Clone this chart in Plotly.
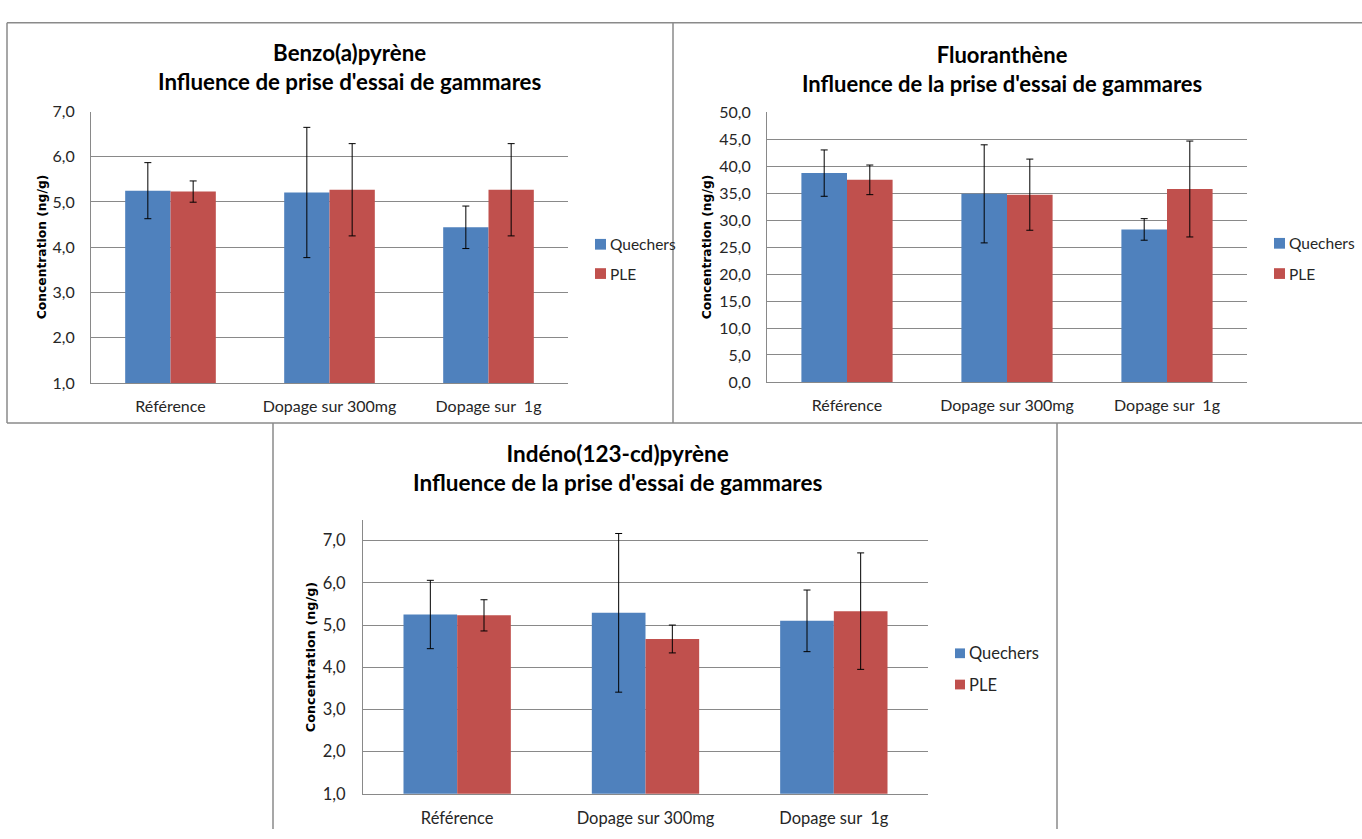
import plotly.graph_objects as go

W, H = 1362, 839

categories = ["Référence", "Dopage sur 300mg", "Dopage sur\u00a0 1g"]
series_names = ["Quechers", "PLE"]

bap_quechers = [5.25, 5.21, 4.44]
bap_quechers_err = [0.62, 1.44, 0.47]
bap_ple = [5.23, 5.27, 5.27]
bap_ple_err = [0.235, 1.02, 1.02]

flu_quechers = [38.75, 34.9, 28.3]
flu_quechers_err = [4.3, 9.1, 2.0]
flu_ple = [37.5, 34.75, 35.8]
flu_ple_err = [2.75, 6.6, 8.9]

ind_quechers = [5.25, 5.29, 5.10]
ind_quechers_err = [0.81, 1.88, 0.73]
ind_ple = [5.23, 4.67, 5.33]
ind_ple_err = [0.37, 0.33, 1.38]

titles = [
    "Benzo(a)pyrène<br>Influence de prise d'essai de gammares",
    "Fluoranthène<br>Influence de la prise d'essai de gammares",
    "Indéno(123-cd)pyrène<br>Influence de la prise d'essai de gammares",
]
y_title = "Concentration (ng/g)"

BLUE = "#4F81BD"
RED = "#C0504D"
GRID = "#898989"
TXT = "#262626"
FONT = "Lato"


def px(x):
    return x / W


def py(y):
    return 1 - y / H


fig = go.Figure()

panels = [
    dict(q=bap_quechers, qe=bap_quechers_err, p=bap_ple, pe=bap_ple_err,
         xa="x", ya="y"),
    dict(q=flu_quechers, qe=flu_quechers_err, p=flu_ple, pe=flu_ple_err,
         xa="x2", ya="y2"),
    dict(q=ind_quechers, qe=ind_quechers_err, p=ind_ple, pe=ind_ple_err,
         xa="x3", ya="y3"),
]
colors = [BLUE, RED]

for i, pn in enumerate(panels):
    for name, vals, errs, col in [
        (series_names[0], pn["q"], pn["qe"], colors[0]),
        (series_names[1], pn["p"], pn["pe"], colors[1]),
    ]:
        fig.add_trace(go.Bar(
            x=categories, y=vals, name=name,
            marker=dict(color=col, line=dict(width=0)),
            error_y=dict(type="data", array=errs, visible=True,
                         color="black", thickness=1, width=3.5),
            xaxis=pn["xa"], yaxis=pn["ya"], showlegend=False,
        ))


def axis_common(fs):
    return dict(showline=True, linecolor=GRID, linewidth=1,
                ticks="", tickfont=dict(family=FONT, size=fs, color=TXT),
                zeroline=False)


fig.update_layout(
    width=W, height=H,
    margin=dict(l=0, r=0, t=0, b=0),
    paper_bgcolor="white", plot_bgcolor="white",
    barmode="group", bargap=0.43, bargroupgap=0,
    separators=", ",
    showlegend=False,
    xaxis=dict(domain=[px(91), px(568)], anchor="y", ticklabelstandoff=9, **axis_common(16)),
    yaxis=dict(domain=[py(382), py(104)], anchor="x", range=[1, 7], dtick=1,
               tickformat=".1f", showgrid=True, gridcolor=GRID, gridwidth=1,
               ticklabelstandoff=12, **axis_common(16)),
    xaxis2=dict(domain=[px(767), px(1247)], anchor="y2", ticklabelstandoff=9, **axis_common(16)),
    yaxis2=dict(domain=[py(381), py(105)], anchor="x2", range=[0, 50], dtick=5,
                tickformat=".1f", showgrid=True, gridcolor=GRID, gridwidth=1,
                ticklabelstandoff=12, **axis_common(16)),
    xaxis3=dict(domain=[px(363), px(928)], anchor="y3", ticklabelstandoff=9, **axis_common(16.5)),
    yaxis3=dict(domain=[py(803), py(522)], anchor="x3", range=[1, 7.5],
                tickvals=[1, 2, 3, 4, 5, 6, 7],
                tickformat=".1f", showgrid=True, gridcolor=GRID, gridwidth=1,
                ticklabelstandoff=13, **axis_common(16.5)),
)

# legends (one per panel): colored squares + labels
legend_specs = [
    # square left x, square size, y centers, text font size
    (595, 11, [240, 270], 15.5),
    (1274, 11, [239, 270], 15.5),
    (955, 10, [659, 691], 16.5),
]
for (lx, sz, ys, fs) in legend_specs:
    for name, col, yc in zip(series_names, colors, ys):
        fig.add_shape(type="rect", xref="paper", yref="paper",
                      x0=px(lx), x1=px(lx + sz), y0=py(yc + sz / 2), y1=py(yc - sz / 2),
                      line=dict(width=0), fillcolor=col)
        fig.add_annotation(text=name, xref="paper", yref="paper",
                           x=px(lx + sz + 2), y=py(yc), showarrow=False,
                           xanchor="left", yanchor="middle",
                           font=dict(family=FONT, size=fs, color=TXT))

# panel borders (drawn as line segments, kept inside the page)
BORDER = dict(color="#8a8a8a", width=1.5)
border_segments = [
    # panel 1
    (7, 13, 673, 13), (7, 13, 7, 423), (7, 423, 673, 423), (673, 13, 673, 423),
    # panel 2 (right edge is outside the picture)
    (673, 13, 1362, 13), (673, 423, 1362, 423),
    # panel 3 (bottom edge is outside the picture)
    (273, 423, 273, 839), (1057, 423, 1057, 839),
]
for (x0, y0, x1, y1) in border_segments:
    fig.add_shape(type="line", xref="paper", yref="paper",
                  x0=px(x0), y0=py(y0), x1=px(x1), y1=py(y1), line=BORDER)

# titles
for t, (cx, cy, fs) in zip(titles, [(350, 58, 22.3), (1002, 60, 22), (617, 469, 22.5)]):
    fig.add_annotation(text="<b>" + t + "</b>", xref="paper", yref="paper",
                       x=px(cx), y=py(cy), showarrow=False, align="center",
                       font=dict(family=FONT, size=fs, color="black"),
                       xanchor="center", yanchor="middle")

# y-axis titles
for (cx, cy, fs) in [(42, 243, 12.3), (707, 243, 12.3), (310, 663, 12.8)]:
    fig.add_annotation(text="<b>" + y_title + "</b>", xref="paper", yref="paper",
                       x=px(cx), y=py(cy), showarrow=False, textangle=-90,
                       font=dict(family="DejaVu Sans", size=fs, color="black"),
                       xanchor="center", yanchor="middle")

fig.write_html(
    "out.html",
    config={"displayModeBar": False},
    post_script="document.body.style.margin='0';document.body.style.overflow='hidden';",
)
